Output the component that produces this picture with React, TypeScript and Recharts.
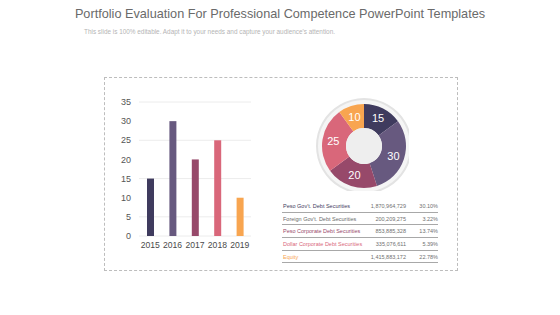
import React from "react";
import { BarChart, Bar, XAxis, YAxis, CartesianGrid, Cell, PieChart, Pie } from "recharts";

const years = ["2015", "2016", "2017", "2018", "2019"];
const values = [15, 30, 20, 25, 10];
const colors = ["#3f3b5e", "#67597f", "#97496a", "#d9677a", "#f8a550"];
const yTicks = [0, 5, 10, 15, 20, 25, 30, 35];

const rowNames = [
  "Peso Gov't. Debt Securities",
  "Foreign Gov't. Debt Securities",
  "Peso Corporate Debt Securities",
  "Dollar Corporate Debt Securities",
  "Equity",
];
const rowAmounts = ["1,870,964,729", "200,209,275", "853,885,328", "335,076,611", "1,415,883,172"];
const rowShares = ["30.10%", "3.22%", "13.74%", "5.39%", "22.78%"];
const rowColors = ["#3f3b5e", "#6b6b6b", "#97496a", "#d9677a", "#f8a550"];

const font = "'Liberation Sans', Arial, sans-serif";

const barData = years.map((year, i) => ({ year, value: values[i] }));
const pieData = values.map((value, i) => ({ name: years[i], value }));

const RAD = Math.PI / 180;

// eslint-disable-next-line @typescript-eslint/no-explicit-any
const renderPieLabel = (props: any) => {
  const { cx, cy, midAngle, value } = props;
  const r = 31;
  const x = cx + r * Math.cos(-midAngle * RAD);
  const y = cy + r * Math.sin(-midAngle * RAD);
  return (
    <text
      x={x}
      y={y}
      fill="#ffffff"
      fontSize={11}
      fontFamily={font}
      textAnchor="middle"
      dominantBaseline="central"
    >
      {value}
    </text>
  );
};

export default function App() {
  return (
    <div
      style={{
        position: "absolute",
        left: 0,
        top: 0,
        width: 560,
        height: 315,
        background: "#ffffff",
        fontFamily: font,
        overflow: "hidden",
      }}
    >
      <div
        style={{
          position: "absolute",
          left: 0,
          width: 560,
          top: 7,
          textAlign: "center",
          fontSize: 12.7,
          color: "#6a6a6a",
        }}
      >
        Portfolio Evaluation For Professional Competence PowerPoint Templates
      </div>
      <div
        style={{
          position: "absolute",
          left: 84,
          top: 28,
          fontSize: 6.4,
          color: "#b5b5b5",
          whiteSpace: "nowrap",
        }}
      >
        This slide is 100% editable. Adapt it to your needs and capture your audience's attention.
      </div>

      <div
        style={{
          position: "absolute",
          left: 104,
          top: 77,
          width: 352,
          height: 192,
          border: "1px dashed #bdbdbd",
        }}
      />

      <div style={{ position: "absolute", left: 106, top: 90 }}>
        <BarChart
          width={150}
          height={170}
          data={barData}
          margin={{ top: 12, right: 5, bottom: 10, left: 8 }}
        >
          <CartesianGrid vertical={false} stroke="#ececec" />
          <XAxis
            dataKey="year"
            axisLine={false}
            tickLine={false}
            height={14}
            tickMargin={0}
            interval={0}
            tick={{ fontSize: 8.6, fill: "#4a4a4a", fontFamily: font }}
          />
          <YAxis
            width={25}
            domain={[0, 35]}
            ticks={yTicks}
            axisLine={false}
            tickLine={false}
            tick={{ fontSize: 9, fill: "#555555", fontFamily: font }}
          />
          <Bar dataKey="value" barSize={7} isAnimationActive={false}>
            {barData.map((d, i) => (
              <Cell key={d.year} fill={colors[i]} />
            ))}
          </Bar>
        </BarChart>
      </div>

      <div style={{ position: "absolute", left: 309, top: 91 }}>
        <PieChart width={100} height={100}>
          <Pie
            data={[{ value: 1 }]}
            dataKey="value"
            cx={50}
            cy={50}
            outerRadius={48}
            innerRadius={0}
            fill="#e3e3e3"
            stroke="none"
            isAnimationActive={false}
          />
          <Pie
            data={[{ value: 1 }]}
            dataKey="value"
            cx={50}
            cy={50}
            outerRadius={46}
            innerRadius={0}
            fill="#f5f5f5"
            stroke="none"
            isAnimationActive={false}
          />
          <Pie
            data={pieData}
            dataKey="value"
            cx={50}
            cy={50}
            startAngle={90}
            endAngle={-270}
            outerRadius={42}
            innerRadius={18}
            stroke="none"
            label={renderPieLabel}
            labelLine={false}
            isAnimationActive={false}
          >
            {pieData.map((d, i) => (
              <Cell key={d.name} fill={colors[i]} />
            ))}
          </Pie>
          <Pie
            data={[{ value: 1 }]}
            dataKey="value"
            cx={50}
            cy={50}
            outerRadius={18}
            innerRadius={0}
            fill="#eeeeee"
            stroke="none"
            isAnimationActive={false}
          />
        </PieChart>
      </div>

      <div style={{ position: "absolute", left: 282, top: 200, width: 156 }}>
        {rowNames.map((name, i) => (
          <div
            key={name}
            style={{
              display: "flex",
              height: 12.7,
              alignItems: "center",
              borderBottom: "1px solid #a8a8a8",
              fontSize: 5.5,
              boxSizing: "border-box",
              whiteSpace: "nowrap",
            }}
          >
            <span style={{ width: 70, color: rowColors[i], paddingLeft: 1 }}>{name}</span>
            <span style={{ width: 53, textAlign: "right", color: "#707070" }}>{rowAmounts[i]}</span>
            <span style={{ width: 32, textAlign: "right", color: "#707070" }}>{rowShares[i]}</span>
          </div>
        ))}
      </div>
    </div>
  );
}
